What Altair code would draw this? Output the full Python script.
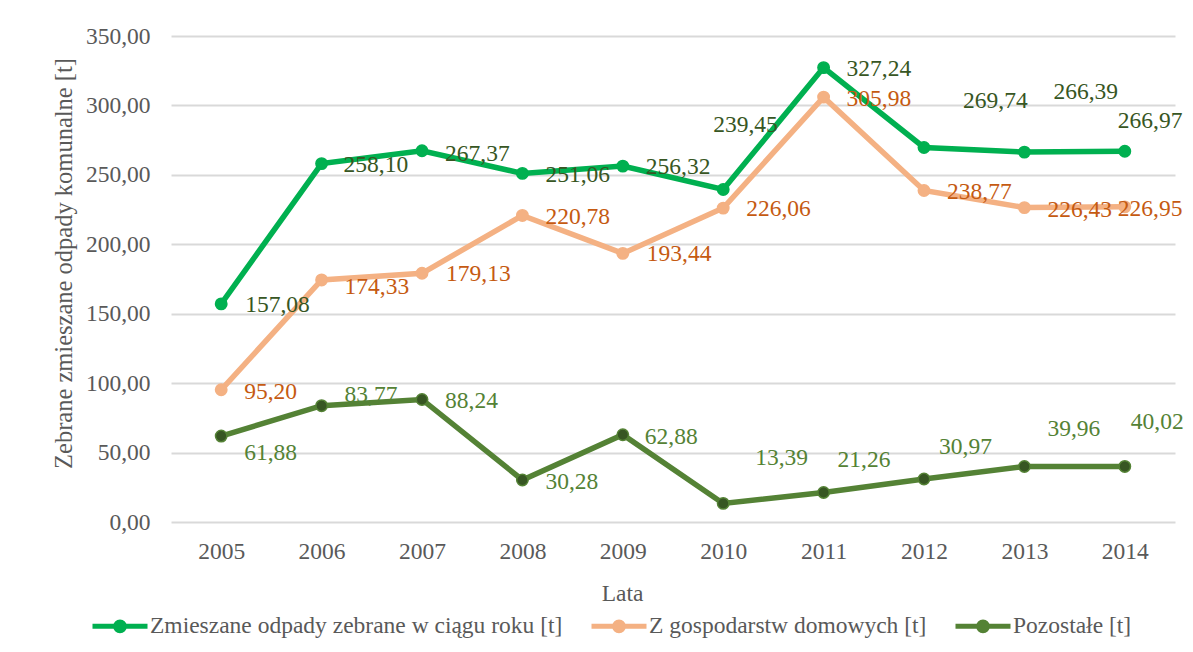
import altair as alt
import pandas as pd

# ---------------- data ----------------
years = ["2005", "2006", "2007", "2008", "2009", "2010", "2011", "2012", "2013", "2014"]
series_names = [
    "Zmieszane odpady zebrane w ciągu roku [t]",
    "Z gospodarstw domowych [t]",
    "Pozostałe [t]",
]
zmieszane = [157.08, 258.10, 267.37, 251.06, 256.32, 239.45, 327.24, 269.74, 266.39, 266.97]
gospodarstwa = [95.20, 174.33, 179.13, 220.78, 193.44, 226.06, 305.98, 238.77, 226.43, 226.95]
pozostale = [61.88, 83.77, 88.24, 30.28, 62.88, 13.39, 21.26, 30.97, 39.96, 40.02]
y_ticks = [0, 50, 100, 150, 200, 250, 300, 350]

# ---------------- styles ----------------
line_colors = ["#00B050", "#F4B183", "#548235"]
marker_colors = ["#00B050", "#F4B183", "#375623"]
label_colors = ["#375623", "#C55A11", "#548235"]
FONT = "Liberation Serif"
FS = 23.5
GREY = "#595959"

# data-label placement (pixel offsets from each point, as placed in the original)
label_dx = [
    [24, 22, 23, 23, 23, -10, 23, 39, 29, -7],
    [23, 23, 24, 23, 24, 23, 23, 23, 23, -7],
    [23, 23, 23, 23, 22, 32, 14, 15, 23, 6],
]
label_dy = [
    [1, 1, 3, 2, 1, -65, 1, -46, -60, -30],
    [2, 7, 1, 2, 1, 1, 2, 2, 2, 2],
    [17, -11, 2, 2, 2, -45, -32, -32, -38, -44],
]

rows = []
for s_i, (name, vals) in enumerate(zip(series_names, [zmieszane, gospodarstwa, pozostale])):
    for y_i, (yr, v) in enumerate(zip(years, vals)):
        rows.append({
            "year": yr,
            "series": name,
            "value": v,
            "label": f"{v:.2f}".replace(".", ","),
            "s": s_i,
            "i": y_i,
        })
df = pd.DataFrame(rows)

W, H = 1004, 486

x_enc = alt.X(
    "year:O",
    sort=years,
    scale=alt.Scale(type="point", padding=0.5),
    axis=alt.Axis(
        title="Lata",
        domain=False,
        ticks=False,
        tickSize=0,
        grid=False,
        labelAngle=0,
        labelBaseline="middle",
        labelPadding=29,
        titleX=451,
        titleY=71,
        titleAlign="center",
        titleBaseline="middle",
    ),
)
y_enc = alt.Y(
    "value:Q",
    scale=alt.Scale(domain=[0, 350], nice=False, zero=True),
    axis=alt.Axis(
        title="Zebrane zmieszane odpady komunalne [t]",
        values=y_ticks,
        labelExpr="replace(format(datum.value, '.2f'), '.', ',')",
        domain=False,
        ticks=False,
        grid=True,
        gridColor="#D9D9D9",
        gridWidth=1.8,
        labelPadding=21,
        titleX=-107,
        titleY=227,
        titleAlign="center",
        titleBaseline="middle",
        titleFontSize=24.5,
    ),
)

sym_path = "M-1,0L1,0M0.16,0A0.16,0.16,0,1,1,-0.16,0A0.16,0.16,0,1,1,0.16,0Z"
legend = alt.Legend(
    title=None,
    orient="none",
    direction="horizontal",
    legendX=-81,
    legendY=560,
    symbolType=sym_path,
    symbolSize=3025,
    symbolStrokeWidth=5,
    labelOffset=0,
    columnPadding=18,
    labelLimit=800,
)

base = alt.Chart(df)

lines = base.mark_line(strokeWidth=5.5).encode(
    x=x_enc,
    y=y_enc,
    stroke=alt.Stroke("series:N", scale=alt.Scale(domain=series_names, range=line_colors), legend=legend),
    order=alt.Order("year:O"),
)

points = base.mark_circle(size=130, strokeWidth=1.5, opacity=1).encode(
    x=x_enc,
    y=y_enc,
    fill=alt.Fill("series:N", scale=alt.Scale(domain=series_names, range=marker_colors), legend=legend),
    stroke=alt.Stroke("series:N", scale=alt.Scale(domain=series_names, range=line_colors), legend=legend),
)

label_layers = []
for s_i in range(len(series_names)):
    for y_i in range(len(years)):
        label_layers.append(
            base.transform_filter(
                (alt.datum.s == s_i) & (alt.datum.i == y_i)
            ).mark_text(
                align="left",
                baseline="middle",
                font=FONT,
                fontSize=FS,
                color=label_colors[s_i],
                dx=label_dx[s_i][y_i],
                dy=label_dy[s_i][y_i],
            ).encode(x=x_enc, y=y_enc, text="label:N")
        )

chart = (
    alt.layer(lines, points, *label_layers)
    .properties(
        width=W,
        height=H,
        autosize=alt.AutoSizeParams(type="none"),
        padding={"left": 163, "top": 28, "right": 10, "bottom": 120},
    )
    .configure_view(stroke=None)
    .configure_axis(
        labelFont=FONT,
        labelFontSize=FS,
        labelColor=GREY,
        titleFont=FONT,
        titleFontSize=FS,
        titleColor=GREY,
        titleFontWeight="normal",
    )
    .configure_legend(
        labelFont=FONT,
        labelFontSize=FS,
        labelColor=GREY,
    )
)

chart.save("out.html", embed_options={"renderer": "svg", "actions": False})
